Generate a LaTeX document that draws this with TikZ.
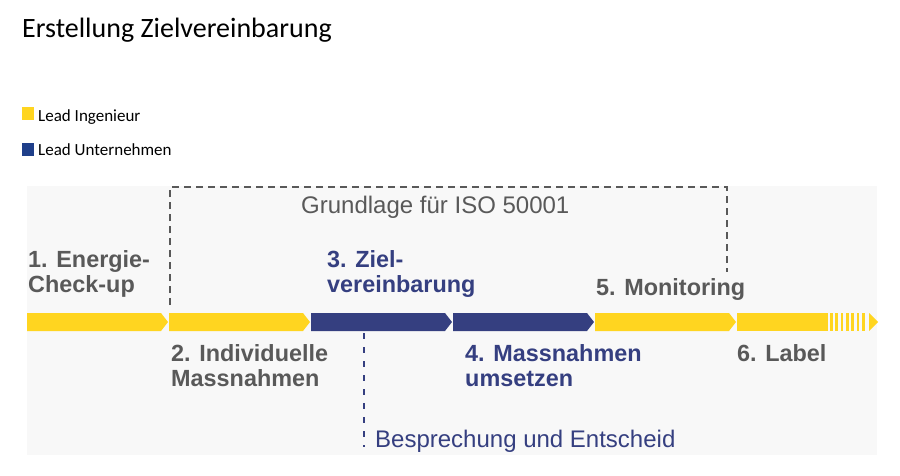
\documentclass[tikz,border=0pt]{standalone}
\usepackage{fontspec}
\setmainfont{Liberation Sans}
\newfontfamily\calibri{Carlito}
\usepackage{tikz}
\definecolor{ingyellow}{HTML}{FFD520}
\definecolor{untblue}{HTML}{353F80}
\definecolor{legblue}{HTML}{1F3F8A}
\definecolor{txtgray}{HTML}{595959}
\definecolor{bggray}{HTML}{F8F8F8}
\def\seg{-- ++(134,0) -- ++(7,9) -- ++(-7,9) -- ++(-134,0) -- cycle}

\begin{document}
\begin{tikzpicture}[x=1pt,y=-1pt,
    phase/.style={anchor=base west,inner sep=0pt,align=left,
      font=\fontsize{23.4}{25}\selectfont\bfseries},
    note/.style={anchor=base west,inner sep=0pt,font=\fontsize{24}{28}\selectfont},
    legend/.style={anchor=base west,inner sep=0pt,font=\calibri\fontsize{17}{20}\selectfont}]
    \useasboundingbox (0,0) rectangle (900,475);
    \fill[bggray] (27,186) rectangle (877,455);

    \node[anchor=base west,inner sep=0pt,font=\calibri\fontsize{28}{32}\selectfont] (title) at (22,37) {Erstellung Zielvereinbarung};
    \fill[ingyellow] (22,107) rectangle (34,120);
    \node[legend] (leading) at (38,121) {Lead Ingenieur};
    \fill[legblue] (22,143) rectangle (34,156);
    \node[legend] (leadu) at (38,155) {Lead Unternehmen};

    \draw[txtgray,line width=1.4pt,dash pattern=on 7pt off 5pt] (170,305) |- (727,187) -- (727,272);
    \node[note,text=txtgray] (iso) at (301,213) {Grundlage für ISO 50001};

    \begin{scope}
        \fill[ingyellow] (27,313) \seg;
        \fill[ingyellow] (169,313) \seg;
        \fill[untblue] (311,313) \seg;
        \fill[untblue] (453,313) \seg;
        \fill[ingyellow] (595,313) \seg;
        \fill[ingyellow] (737,313) rectangle (828,331);
        \foreach \x in {0,...,6}
            \fill[ingyellow] (830+\x*5.3,313) rectangle ++(2.7,18);
        \fill[ingyellow] (869,313) -- (878,322) -- (869,331) -- cycle;
    \end{scope}
    \coordinate (d3) at (364,333);

    \node[phase,text=txtgray] (p1) at (28,292) {1. Energie-\\Check-up};
    \node[phase,text=txtgray] (p2) at (171,386) {2. Individuelle\\Massnahmen};
    \node[phase,text=untblue] (p3) at (327,292) {3. Ziel-\\vereinbarung};
    \node[phase,text=untblue] (p4) at (465,386) {4. Massnahmen\\umsetzen};
    \node[phase,text=txtgray] (p5) at (596,295) {5. Monitoring};
    \node[phase,text=txtgray] (p6) at (737,361) {6. Label};

    \node[note,text=untblue] (bes) at (375,447) {Besprechung und Entscheid};
    \draw[untblue,line width=1.3pt,dash pattern=on 6pt off 8pt] (d3) -- (d3 |- bes.base);
\end{tikzpicture}
\end{document}
